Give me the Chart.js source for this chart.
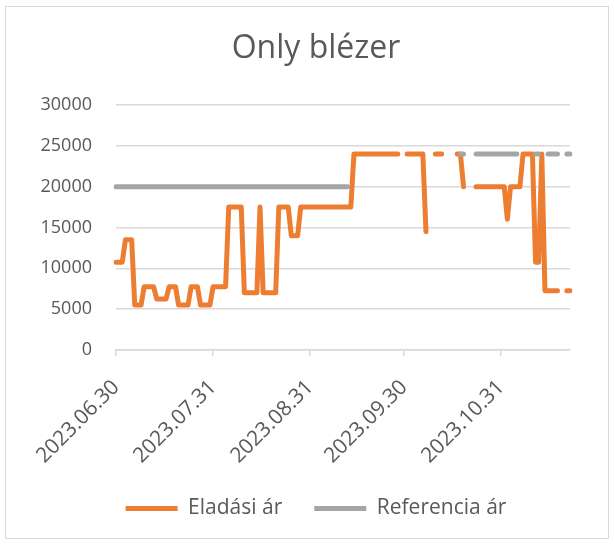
<!DOCTYPE html>
<html>
<head>
<meta charset="utf-8">
<script src="https://cdn.jsdelivr.net/npm/chart.js@4.4.0/dist/chart.umd.min.js"></script>
<style>
  html, body { margin: 0; padding: 0; background: #fff; }
  #wrap { position: relative; width: 614px; height: 544px; }
  #frame { position: absolute; left: 5px; top: 6px; width: 602px; height: 531px; border: 1px solid #d9d9d9; }
  canvas { position: absolute; left: 0; top: 0; }
</style>
</head>
<body>
<div id="wrap"><div id="frame"></div><canvas id="myChart" width="614" height="544"></canvas></div>
<script>
// daily values from 2023.06.30, null = no price that day
const eladasiAr = [
  10750, 10750, 10750, 13500, 13500, 13500, 5500, 5500, 5500, 7750,
  7750, 7750, 7750, 6250, 6250, 6250, 6250, 7750, 7750, 7750,
  5500, 5500, 5500, 5500, 7750, 7750, 7750, 5500, 5500, 5500,
  5500, 7750, 7750, 7750, 7750, 7750, 17500, 17500, 17500, 17500,
  17500, 7000, 7000, 7000, 7000, 7000, 17500, 7000, 7000, 7000,
  7000, 7000, 17500, 17500, 17500, 17500, 14000, 14000, 14000, 17500,
  17500, 17500, 17500, 17500, 17500, 17500, 17500, 17500, 17500, 17500,
  17500, 17500, 17500, 17500, 17500, 17500, 24000, 24000, 24000, 24000,
  24000, 24000, 24000, 24000, 24000, 24000, 24000, 24000, 24000, 24000,
  24000, null, null, 24000, 24000, 24000, 24000, 24000, 24000, 14500,
  null, null, 24000, 24000, 24000, null, null, null, null, 24000,
  24000, 20000, null, null, null, 20000, 20000, 20000, 20000, 20000,
  20000, 20000, 20000, 20000, 20000, 16000, 20000, 20000, 20000, 20000,
  24000, 24000, 24000, 24000, 10750, 10750, 24000, 7250, 7250, 7250,
  7250, 7250, null, null, 7250, 7250
];

const referenciaAr = [
  20000, 20000, 20000, 20000, 20000, 20000, 20000, 20000, 20000, 20000,
  20000, 20000, 20000, 20000, 20000, 20000, 20000, 20000, 20000, 20000,
  20000, 20000, 20000, 20000, 20000, 20000, 20000, 20000, 20000, 20000,
  20000, 20000, 20000, 20000, 20000, 20000, 20000, 20000, 20000, 20000,
  20000, 20000, 20000, 20000, 20000, 20000, 20000, 20000, 20000, 20000,
  20000, 20000, 20000, 20000, 20000, 20000, 20000, 20000, 20000, 20000,
  20000, 20000, 20000, 20000, 20000, 20000, 20000, 20000, 20000, 20000,
  20000, 20000, 20000, 20000, 20000, null, null, null, null, null,
  null, null, null, null, null, null, null, null, null, null,
  null, null, null, null, null, null, null, null, null, null,
  null, null, null, null, null, null, null, null, null, null,
  24000, 24000, null, null, null, 24000, 24000, 24000, 24000, 24000,
  24000, 24000, 24000, 24000, 24000, 24000, 24000, 24000, 24000, null,
  null, null, null, null, 24000, 24000, null, null, 24000, 24000,
  24000, 24000, null, null, 24000, 24000
];

const tickLabels = ['2023.06.30', '2023.07.31', '2023.08.31', '2023.09.30', '2023.10.31'];

// one category per day
const labels = [];
for (let i = 0; i < eladasiAr.length; i++) {
  const d = new Date(Date.UTC(2023, 5, 30 + i));
  labels.push(d.getUTCFullYear() + '.' + String(d.getUTCMonth() + 1).padStart(2, '0') + '.' + String(d.getUTCDate()).padStart(2, '0'));
}

const fontFamily = "'Open Sans', sans-serif";
const textColor = '#595959';
const gridColor = '#d9d9d9';

const ctx = document.getElementById('myChart').getContext('2d');
const myChart = new Chart(ctx, {
  type: 'line',
  data: {
    labels: labels,
    datasets: [{
      label: 'Eladási ár',
      data: eladasiAr,
      borderColor: '#ED7D31',
      backgroundColor: '#ED7D31',
      borderWidth: 5,
      borderCapStyle: 'round',
      borderJoinStyle: 'round',
      pointRadius: 0,
      pointHoverRadius: 0,
      tension: 0,
      spanGaps: false,
      order: 1
    }, {
      label: 'Referencia ár',
      data: referenciaAr,
      borderColor: '#A5A5A5',
      backgroundColor: '#A5A5A5',
      borderWidth: 5,
      borderCapStyle: 'round',
      borderJoinStyle: 'round',
      pointRadius: 0,
      pointHoverRadius: 0,
      tension: 0,
      spanGaps: false,
      order: 0
    }]
  },
  options: {
    responsive: false,
    animation: false,
    layout: { padding: { left: 18, right: 0, top: 0, bottom: 15 } },
    plugins: {
      title: {
        display: true,
        text: 'Only blézer',
        color: textColor,
        font: { family: fontFamily, size: 32, weight: 'normal' },
        padding: { top: 30, bottom: 36.6 }
      },
      legend: {
        position: 'bottom',
        labels: {
          usePointStyle: true,
          pointStyle: 'line',
          pointStyleWidth: 52,
          color: textColor,
          font: { family: fontFamily, size: 21 },
          padding: 32,
          sort: (a, b) => a.datasetIndex - b.datasetIndex
        }
      },
      tooltip: { enabled: false }
    },
    scales: {
      x: {
        grid: { drawOnChartArea: false, color: gridColor, lineWidth: 1.5, tickLength: 6 },
        border: { color: gridColor, width: 1.5 },
        ticks: {
          autoSkip: false,
          minRotation: 45,
          maxRotation: 45,
          padding: 19,
          color: textColor,
          font: { family: fontFamily, size: 21 },
          callback: function (value) {
            const l = this.getLabelForValue(value);
            return tickLabels.includes(l) ? l : null;
          }
        },
        afterFit: s => { s.height = 116; }
      },
      y: {
        min: 0,
        max: 30000,
        ticks: {
          stepSize: 5000,
          padding: 24,
          color: textColor,
          font: { family: fontFamily, size: 18 },
          callback: v => String(v)
        },
        grid: { color: gridColor, lineWidth: 1.5, drawTicks: false },
        border: { display: false },
        afterFit: s => { s.width = 98; }
      },
      y2: {
        position: 'right',
        grid: { display: false },
        ticks: { display: false },
        border: { display: false },
        afterFit: s => { s.width = 44; }
      }
    }
  }
});
</script>
</body>
</html>
